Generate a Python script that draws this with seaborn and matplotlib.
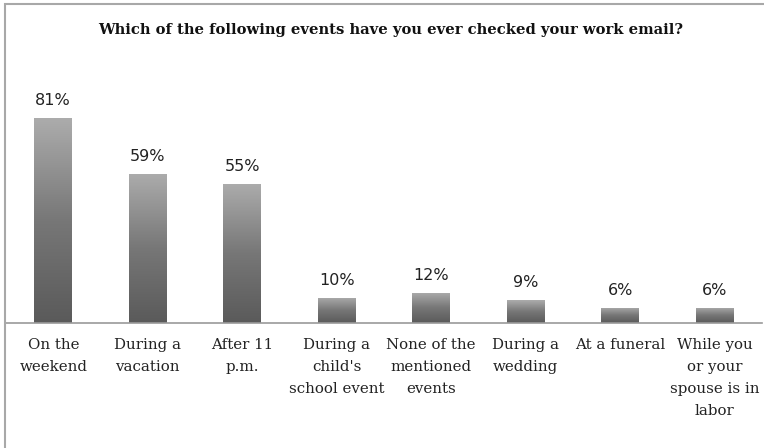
import numpy as np
import pandas as pd
import matplotlib
matplotlib.use("Agg")
import matplotlib.pyplot as plt
from matplotlib.colors import LinearSegmentedColormap
from matplotlib.patches import Rectangle
import seaborn as sns

categories = ["On the\nweekend", "During a\nvacation", "After 11\np.m.",
              "During a\nchild's\nschool event", "None of the\nmentioned\nevents",
              "During a\nwedding", "At a funeral",
              "While you\nor your\nspouse is in\nlabor"]
percent = [81, 59, 55, 10, 12, 9, 6, 6]
title = "Which of the following events have you ever checked your work email?"

sns.set_theme(style="white")
plt.rcParams["font.family"] = ["DejaVu Serif"]

df = pd.DataFrame({"event": categories, "pct": percent})

fig = plt.figure(figsize=(7.64, 4.48), dpi=100)
ax = fig.add_axes([6 / 764, (448 - 323) / 448, 756 / 764, 253 / 448])

sns.barplot(data=df, x="event", y="pct", ax=ax, width=0.4, color="#888888",
            edgecolor="none", saturation=1)

ax.set_xlim(-0.5, len(categories) - 0.5)
ax.set_ylim(0, 100)

# vertical grey gradient inside each bar
cmap = LinearSegmentedColormap.from_list("bar", ["#5a5a5a", "#777777", "#acacac"])
grad = np.linspace(0, 1, 256).reshape(-1, 1)
for patch in ax.patches:
    x0, y0 = patch.get_x(), patch.get_y()
    w, h = patch.get_width(), patch.get_height()
    patch.set_facecolor("none")
    im = ax.imshow(grad, cmap=cmap, aspect="auto", origin="lower",
                   extent=[x0, x0 + w, y0, y0 + h], zorder=2)
    im.set_clip_path(patch)

for i, v in enumerate(percent):
    ax.text(i, v + 4, f"{v}%", ha="center", va="bottom", fontsize=11.5,
            color="#222222", family="DejaVu Sans")

ax.set_xlabel("")
ax.set_ylabel("")
ax.set_yticks([])
ax.tick_params(axis="x", length=0, pad=11, labelsize=10.8, labelcolor="#222222")
for lab in ax.get_xticklabels():
    lab.set_linespacing(1.72)
    lab.set_verticalalignment("top")
for side in ["top", "right", "left"]:
    ax.spines[side].set_visible(False)
ax.spines["bottom"].set_color("#9a9a9a")
ax.spines["bottom"].set_linewidth(1.2)
ax.set_aspect("auto")

fig.text(391 / 764, 1 - 30 / 448, title, ha="center", va="center",
         fontsize=10.6, fontweight="bold", color="#111111")

# outer chart frame (top and left edges visible)
fig.patches.append(Rectangle((5 / 764, -0.1), 1.2, 1 - 4 / 448 + 0.1,
                             transform=fig.transFigure, fill=False,
                             edgecolor="#a8a8a8", linewidth=1.5))

fig.savefig("out.png", dpi=100, facecolor="white")
